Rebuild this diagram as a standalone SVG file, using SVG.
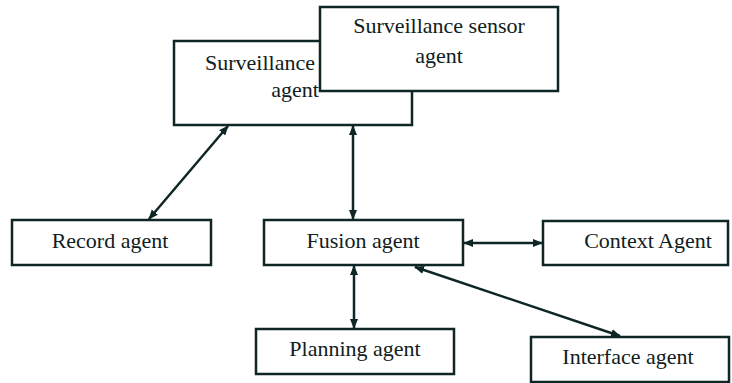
<svg xmlns="http://www.w3.org/2000/svg" width="732" height="383" viewBox="0 0 732 383">
<style>
.box{fill:#fff;stroke:#0f2626;stroke-width:2.5}
.t{font-family:"Liberation Serif",serif;font-size:22px;fill:#102020;text-anchor:middle}
.c{stroke:#0f2626;stroke-width:2.5;fill:none;marker-start:url(#a);marker-end:url(#a)}
</style>
<defs>
<marker id="a" viewBox="0 0 10 10" refX="9" refY="5" markerWidth="4" markerHeight="4" orient="auto-start-reverse" markerUnits="strokeWidth">
<path d="M0,1 L10,5 L0,9 Z" fill="#0f2626"/>
</marker>
</defs>
<rect width="732" height="383" fill="#fff"/>
<g id="surveillance-agent">
<rect class="box" x="174" y="41" width="238" height="84"/>
<text class="t" x="205" y="70" style="text-anchor:start">Surveillance</text>
<text class="t" x="295" y="97">agent</text>
</g>
<g id="surveillance-sensor-agent">
<rect class="box" x="320" y="7" width="238" height="84"/>
<text class="t" x="439" y="33">Surveillance sensor</text>
<text class="t" x="439" y="63">agent</text>
</g>
<g id="record-agent">
<rect class="box" x="12" y="220" width="199" height="45"/>
<text class="t" x="110" y="248">Record agent</text>
</g>
<g id="fusion-agent">
<rect class="box" x="264" y="220" width="199" height="45"/>
<text class="t" x="363" y="248">Fusion agent</text>
</g>
<g id="context-agent">
<rect class="box" x="543" y="221" width="185" height="44"/>
<text class="t" x="648" y="248">Context Agent</text>
</g>
<g id="planning-agent">
<rect class="box" x="256" y="329" width="198" height="45"/>
<text class="t" x="355" y="356">Planning agent</text>
</g>
<g id="interface-agent">
<rect class="box" x="531" y="337" width="198" height="45"/>
<text class="t" x="628" y="364">Interface agent</text>
</g>
<g id="connectors">
<line class="c" x1="228" y1="126" x2="149" y2="219"/>
<line class="c" x1="353" y1="126" x2="353" y2="219"/>
<line class="c" x1="464" y1="243" x2="542" y2="243"/>
<line class="c" x1="354" y1="266" x2="354" y2="328"/>
<line class="c" x1="415" y1="267" x2="620" y2="336"/>
</g>
</svg>
